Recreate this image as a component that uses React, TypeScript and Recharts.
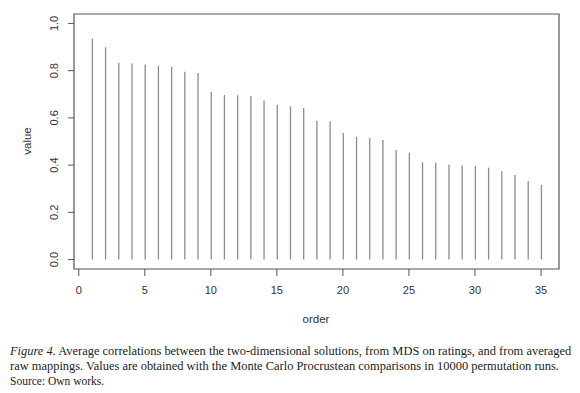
import React from "react"
import { ComposedChart, Bar, XAxis, YAxis, ReferenceArea } from "recharts"

// correlations, in rank order
const order = Array.from({ length: 35 }, (_, i) => i + 1)
const values = [
  0.935, 0.899, 0.834, 0.83, 0.826, 0.82, 0.816, 0.795, 0.79, 0.711,
  0.697, 0.696, 0.693, 0.674, 0.656, 0.649, 0.642, 0.588, 0.586, 0.536,
  0.52, 0.515, 0.506, 0.464, 0.453, 0.412, 0.41, 0.402, 0.398, 0.395,
  0.389, 0.374, 0.358, 0.333, 0.316,
]
const xTicks = [0, 5, 10, 15, 20, 25, 30, 35]
const yTicks = [0, 0.2, 0.4, 0.6, 0.8, 1.0]

const data = order.map((o, i) => ({ order: o, value: values[i] }))

const axisColor = "#555"
const textColor = "#333"
const sans = "'Liberation Sans', Arial, sans-serif"
const serif = "'Liberation Serif', 'DejaVu Serif', serif"

const Spike = (props: any) => {
  const { x, y, width, height } = props
  const cx = x + width / 2
  return <line x1={cx} x2={cx} y1={y} y2={y + height} stroke="#8c8c8c" strokeWidth={1.3} />
}

const YTick = ({ x, y, payload }: any) => (
  <text
    x={x - 8}
    y={y}
    transform={`rotate(-90 ${x - 8} ${y})`}
    textAnchor="middle"
    fontSize={11}
    fill={textColor}
    fontFamily={sans}
  >
    {Number(payload.value).toFixed(1)}
  </text>
)

export default function App() {
  return (
    <div style={{ position: "absolute", left: 0, top: 0, width: 580, height: 393, background: "#fff" }}>
      <ComposedChart
        width={580}
        height={340}
        data={data}
        margin={{ top: 14, right: 21, left: 0, bottom: 0 }}
      >
        <XAxis
          dataKey="order"
          type="number"
          domain={[-0.36, 36.36]}
          ticks={xTicks}
          allowDataOverflow
          height={71}
          axisLine={false}
          tickSize={7}
          tickLine={{ stroke: axisColor }}
          tick={{ fill: textColor, fontSize: 11, fontFamily: sans, dy: 8 }}
          interval={0}
        />
        <YAxis
          type="number"
          domain={[-0.04, 1.04]}
          ticks={yTicks}
          allowDataOverflow
          width={74}
          axisLine={false}
          tickSize={6}
          tickLine={{ stroke: axisColor }}
          tick={<YTick />}
          interval={0}
        />
        <ReferenceArea
          x1={-0.36}
          x2={36.36}
          y1={-0.04}
          y2={1.04}
          fill="none"
          stroke={axisColor}
          strokeWidth={1.2}
          fillOpacity={0}
          ifOverflow="visible"
        />
        <Bar dataKey="value" barSize={2} shape={<Spike />} isAnimationActive={false} />
      </ComposedChart>
      <div
        style={{
          position: "absolute",
          left: 27,
          top: 141,
          transform: "translate(-50%, -50%) rotate(-90deg)",
          fontFamily: sans,
          fontSize: 11.5,
          color: textColor,
        }}
      >
        value
      </div>
      <div
        style={{
          position: "absolute",
          left: 316,
          top: 319,
          transform: "translate(-50%, -50%)",
          fontFamily: sans,
          fontSize: 11.5,
          color: textColor,
        }}
      >
        order
      </div>
      <div
        style={{
          position: "absolute",
          left: 10,
          top: 344,
          width: 570,
          fontFamily: serif,
          fontSize: 12.45,
          lineHeight: "15px",
          color: "#222",
          whiteSpace: "nowrap",
        }}
      >
        <div>
          <i>Figure 4.</i> Average correlations between the two-dimensional solutions, from MDS on ratings, and from averaged
        </div>
        <div>raw mappings. Values are obtained with the Monte Carlo Procrustean comparisons in 10000 permutation runs.</div>
        <div style={{ fontSize: 11.5 }}>Source: Own works.</div>
      </div>
    </div>
  )
}
